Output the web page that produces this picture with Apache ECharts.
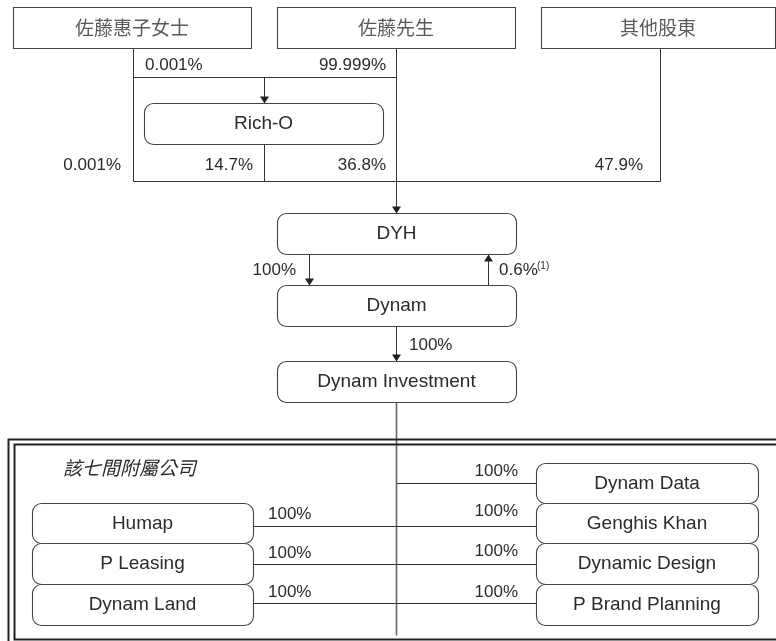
<!DOCTYPE html>
<html>
<head>
<meta charset="utf-8">
<script src="https://cdn.jsdelivr.net/npm/echarts@6/dist/echarts.min.js"></script>
<style>
html,body{margin:0;padding:0;background:#fff;}
#chart{width:776px;height:641px;}
</style>
</head>
<body>
<div id="chart"></div>
<script>
// ---- data ----
const shareholders = ['佐藤惠子女士', '佐藤先生', '其他股東'];
const holdingCos = ['Rich-O', 'DYH', 'Dynam', 'Dynam Investment'];
const subsLeft = ['Humap', 'P Leasing', 'Dynam Land'];
const subsRight = ['Dynam Data', 'Genghis Khan', 'Dynamic Design', 'P Brand Planning'];
const groupTitle = '該七間附屬公司';
const richOStakes = [0.001, 99.999];          // 佐藤惠子女士, 佐藤先生 -> Rich-O
const dyhStakes = [0.001, 14.7, 36.8, 47.9];  // 佐藤惠子女士, Rich-O, 佐藤先生, 其他股東 -> DYH
const dyhToDynam = 100;
const dynamToDyh = 0.6;
const dynamNote = '(1)';
const dynamToInvestment = 100;
const subsLeftStakes = [100, 100, 100];
const subsRightStakes = [100, 100, 100, 100];

// ---- layout (positions in canvas units) ----
const pct = v => v + '%';
const boxes = [];
const shX = [[13, 251], [277, 515], [541, 775]];
shareholders.forEach((n, i) => boxes.push({ text: n, x0: shX[i][0], y0: 7, x1: shX[i][1], y1: 48, r: 0, cjk: true }));
const coY = [[103, 144], [213, 254], [285, 326], [361, 402]];
holdingCos.forEach((n, i) => {
  const x = i === 0 ? [144, 383] : [277, 516];
  boxes.push({ text: n, x0: x[0], y0: coY[i][0], x1: x[1], y1: coY[i][1], r: 9 });
});
const lY = [[503, 543], [543, 584], [584, 625]];
subsLeft.forEach((n, i) => boxes.push({ text: n, x0: 32, y0: lY[i][0], x1: 253, y1: lY[i][1], r: 9 }));
const rY = [[463, 503], [503, 543], [543, 584], [584, 625]];
subsRight.forEach((n, i) => boxes.push({ text: n, x0: 536, y0: rY[i][0], x1: 758, y1: rY[i][1], r: 9 }));

const lines = [
  { pts: [[133, 48], [133, 181], [660, 181], [660, 48]] },
  { pts: [[133, 77], [396, 77]] },
  { pts: [[396, 48], [396, 213]], arrow: true },
  { pts: [[264, 77], [264, 103]], arrow: true },
  { pts: [[264, 144], [264, 181]] },
  { pts: [[309, 254], [309, 285]], arrow: true },
  { pts: [[488, 285], [488, 254]], arrow: true },
  { pts: [[396, 326], [396, 361]], arrow: true },
  { pts: [[396, 402], [396, 635]], color: '#666', width: 1.6 }
];
const lLineY = [526, 564, 603];
subsLeft.forEach((n, i) => lines.push({ pts: [[253, lLineY[i]], [396, lLineY[i]]] }));
const rLineY = [483, 526, 564, 603];
subsRight.forEach((n, i) => lines.push({ pts: [[396, rLineY[i]], [536, rLineY[i]]] }));
// double frame
lines.push({ pts: [[830, 439], [8, 439], [8, 680]], color: '#222', width: 2 });
lines.push({ pts: [[830, 444], [14, 444], [14, 639], [830, 639]], color: '#222', width: 2 });

const labels = [
  { text: pct(richOStakes[0]), x: 145, y: 65.5, align: 'left' },
  { text: pct(richOStakes[1]), x: 386, y: 65.5, align: 'right' },
  { text: pct(dyhStakes[0]), x: 121, y: 165, align: 'right' },
  { text: pct(dyhStakes[1]), x: 253, y: 165, align: 'right' },
  { text: pct(dyhStakes[2]), x: 386, y: 165, align: 'right' },
  { text: pct(dyhStakes[3]), x: 643, y: 165, align: 'right' },
  { text: pct(dyhToDynam), x: 296, y: 270.5, align: 'right' },
  { text: pct(dynamToDyh), x: 499, y: 270.5, align: 'left' },
  { text: dynamNote, x: 537, y: 266, align: 'left', size: 10 },
  { text: pct(dynamToInvestment), x: 409, y: 345.5, align: 'left' },
  { text: groupTitle, x: 63, y: 468, align: 'left', size: 19, italic: true, cjk: true }
];
const lLabY = [514, 553.5, 592.5];
subsLeftStakes.forEach((v, i) => labels.push({ text: pct(v), x: 268, y: lLabY[i], align: 'left' }));
const rLabY = [471, 511, 551, 592];
subsRightStakes.forEach((v, i) => labels.push({ text: pct(v), x: 518, y: rLabY[i], align: 'right' }));

const LATIN = '"Liberation Sans", Arial, sans-serif';
const CJK = '"Noto Sans CJK TC", "Noto Sans CJK SC", sans-serif';
const crisp = v => Math.round(v) + 0.5;

const chart = echarts.init(document.getElementById('chart'), null, { renderer: 'canvas' });
chart.setOption({
  animation: false,
  grid: { left: 0, right: 0, top: 0, bottom: 0 },
  xAxis: { type: 'value', min: 0, max: 776, show: false },
  yAxis: { type: 'value', min: 0, max: 641, inverse: true, show: false },
  series: [
    {
      type: 'custom', silent: true, z: 2,
      data: lines.map((l, i) => [i]),
      renderItem: (params, api) => {
        const l = lines[api.value(0)];
        const pts = l.pts.map(p => { const c = api.coord(p); return [crisp(c[0]), crisp(c[1])]; });
        const color = l.color || '#333';
        const children = [{
          type: 'polyline', shape: { points: pts },
          style: { stroke: color, lineWidth: l.width || 1, fill: null }
        }];
        if (l.arrow) {
          const a = pts[pts.length - 2], b = pts[pts.length - 1];
          const dir = b[1] > a[1] ? 1 : -1;
          children.push({
            type: 'polygon',
            shape: { points: [[b[0], b[1]], [b[0] - 4.5, b[1] - dir * 7], [b[0] + 4.5, b[1] - dir * 7]] },
            style: { fill: '#222' }
          });
        }
        return { type: 'group', children };
      }
    },
    {
      type: 'custom', silent: true, z: 3,
      data: boxes.map((b, i) => [i]),
      renderItem: (params, api) => {
        const b = boxes[api.value(0)];
        const p0 = api.coord([b.x0, b.y0]), p1 = api.coord([b.x1, b.y1]);
        const x = crisp(p0[0]), y = crisp(p0[1]);
        return {
          type: 'group', children: [
            { type: 'rect', shape: { x, y, width: Math.round(p1[0] - p0[0]), height: Math.round(p1[1] - p0[1]), r: b.r },
              style: { fill: '#fff', stroke: '#444', lineWidth: 1.1 } },
            { type: 'text', style: {
                text: b.text, x: (p0[0] + p1[0]) / 2, y: (p0[1] + p1[1]) / 2 + 0.5,
                align: 'center', verticalAlign: 'middle',
                font: (b.cjk ? '19px ' + CJK : '19px ' + LATIN), fill: b.cjk ? '#5a5a5a' : '#2b2b2b' } }
          ]
        };
      }
    },
    {
      type: 'custom', silent: true, z: 4,
      data: labels.map((l, i) => [i]),
      renderItem: (params, api) => {
        const l = labels[api.value(0)];
        const c = api.coord([l.x, l.y]);
        return {
          type: 'text', style: {
            text: l.text, x: c[0], y: c[1], align: l.align, verticalAlign: 'middle',
            font: (l.italic ? 'italic ' : '') + (l.size || 17) + 'px ' + (l.cjk ? CJK : LATIN),
            fill: '#2b2b2b'
          }
        };
      }
    }
  ]
});
</script>
</body>
</html>
